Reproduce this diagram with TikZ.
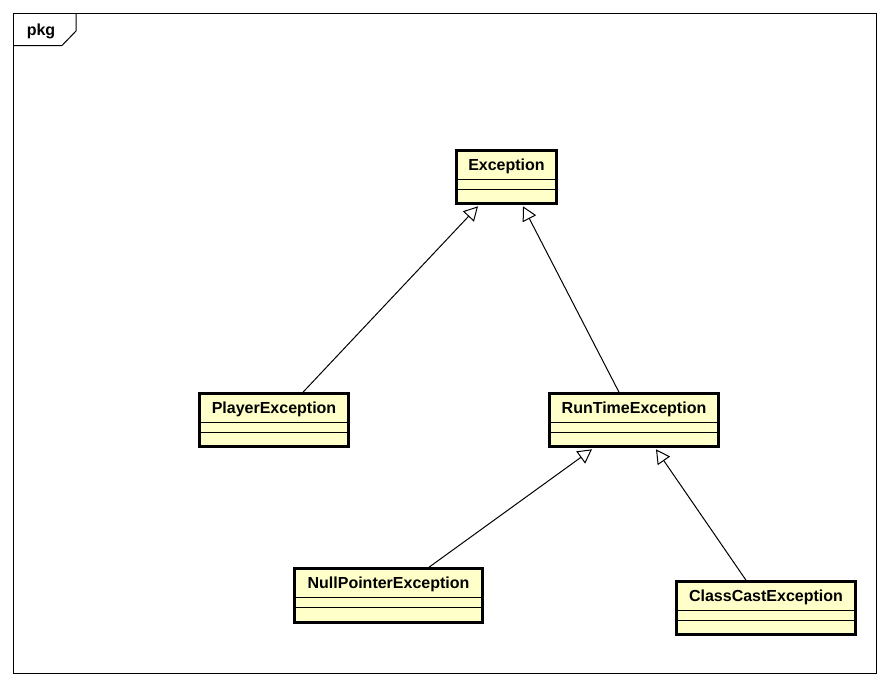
\documentclass[tikz,border=0pt]{standalone}
\usepackage{fontspec}
\setmainfont{Liberation Sans}
\usetikzlibrary{arrows.meta}
\definecolor{clsfill}{HTML}{FFFFCA}
\tikzset{
  cls/.style={draw=black, line width=2.6pt, fill=clsfill, inner sep=0pt},
  clsname/.style={font=\fontsize{16}{18}\selectfont\bfseries, inner sep=0pt, anchor=center},
  sep/.style={line width=1pt},
  gen/.style={line width=1pt, -{Triangle[fill=white, length=14pt, width=15pt, line width=1pt]}},
  frameline/.style={line width=1pt}
}
\newcommand{\umlclass}[6]{%
  % #1 name, #2 cx, #3 cy, #4 width, #5 height, #6 text
  \node[cls, minimum width=#4pt, minimum height=#5pt] (#1) at (#2,#3) {};
  \node[clsname] (#1t) at ([yshift=-17pt]#1.north) {#6};
  \draw[sep] ([yshift=-30.5pt]#1.north west) -- ([yshift=-30.5pt]#1.north east);
  \draw[sep] ([yshift=-40.5pt]#1.north west) -- ([yshift=-40.5pt]#1.north east);
}
\begin{document}
\begin{tikzpicture}[x=1pt,y=-1pt]
\useasboundingbox (0,0) rectangle (890,686);
% frame
\draw[frameline] (13.5,13.5) rectangle (876.5,673.5);
\draw[frameline] (13.5,45.5) -- (62,45.5) -- (76,31) -- (76,13.5);
\node[font=\fontsize{16}{18}\selectfont\bfseries, inner sep=0pt] (pkg) at (41,31) {pkg};
% classes
\umlclass{exc}{506.5}{177}{100}{53}{Exception}
\umlclass{pe}{274}{420}{149}{53}{PlayerException}
\umlclass{rte}{634}{420}{169}{53}{RunTimeException}
\umlclass{npe}{388.5}{595.5}{188}{54}{NullPointerException}
\umlclass{cce}{766}{608}{179}{53}{ClassCastException}
% generalizations
\draw[gen] ([xshift=29pt]pe.north) -- ([xshift=-28.5pt,yshift=-1.5pt]exc.south);
\draw[gen] ([xshift=-15pt]rte.north) -- ([xshift=16.5pt,yshift=-1.5pt]exc.south);
\draw[gen] ([xshift=40.5pt]npe.north) -- ([xshift=-42pt,yshift=-1.5pt]rte.south);
\draw[gen] ([xshift=-20pt]cce.north) -- ([xshift=22pt,yshift=-1.5pt]rte.south);
\end{tikzpicture}
\end{document}
